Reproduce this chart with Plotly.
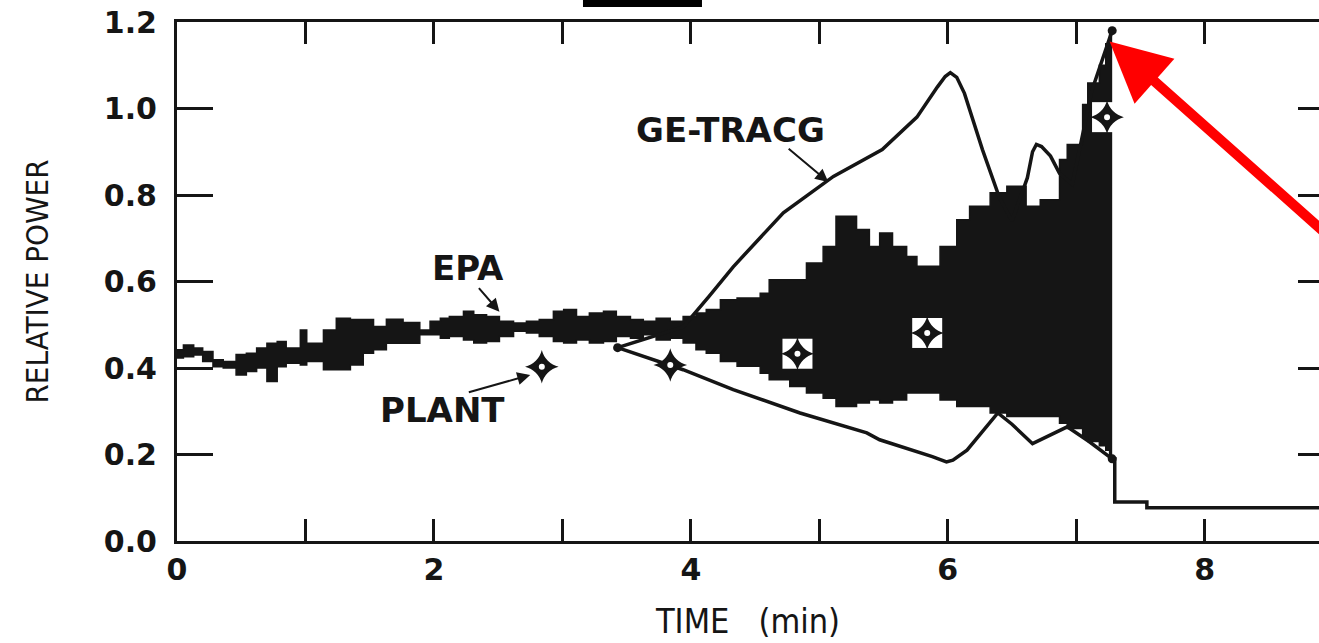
import plotly.graph_objects as go

INK = "#151515"

# ---------------- data ----------------
# EPA best-estimate calculation: oscillation envelope (time in min, upper / lower relative power)
epa_t = [0.00, 0.05, 0.13, 0.20, 0.28, 0.36, 0.46, 0.54, 0.62, 0.70, 0.78, 0.85, 0.96, 1.01,
         1.14, 1.24, 1.35, 1.45, 1.53, 1.63, 1.76, 1.89,
         1.97, 2.05, 2.12, 2.23, 2.31, 2.41, 2.51, 2.62, 2.72, 2.82, 2.93, 3.01, 3.11, 3.21,
         3.32, 3.42, 3.53, 3.63, 3.73, 3.84, 3.94,
         4.04, 4.12, 4.23, 4.36, 4.54, 4.61, 4.77, 4.90, 5.03, 5.13, 5.29, 5.39, 5.47,
         5.57, 5.68, 5.76, 5.94, 6.07, 6.17, 6.33, 6.46, 6.61, 6.72, 6.87, 6.93, 7.05, 7.09,
         7.18, 7.23, 7.26, 7.28]
epa_hi = [0.442, 0.453, 0.446, 0.438, 0.419, 0.415, 0.431, 0.434, 0.446, 0.457, 0.461, 0.446, 0.488, 0.457,
          0.488, 0.515, 0.512, 0.512, 0.496, 0.513, 0.505, 0.488,
          0.508, 0.515, 0.519, 0.531, 0.523, 0.519, 0.508, 0.504, 0.508, 0.512, 0.531, 0.535, 0.519, 0.527,
          0.531, 0.519, 0.512, 0.508, 0.515, 0.508, 0.519,
          0.527, 0.535, 0.558, 0.562, 0.573, 0.604, 0.604, 0.643, 0.681, 0.751, 0.720, 0.681, 0.712,
          0.681, 0.658, 0.635, 0.681, 0.743, 0.774, 0.805, 0.820, 0.774, 0.789, 0.882, 0.917, 1.009, 1.059,
          1.100, 1.150, 1.180, 1.180]
epa_lo = [0.423, 0.426, 0.430, 0.415, 0.403, 0.400, 0.384, 0.392, 0.400, 0.369, 0.403, 0.411, 0.407, 0.415,
          0.396, 0.396, 0.407, 0.434, 0.442, 0.457, 0.457, 0.477,
          0.477, 0.469, 0.473, 0.465, 0.458, 0.461, 0.473, 0.485, 0.481, 0.473, 0.461, 0.458, 0.465, 0.458,
          0.461, 0.473, 0.469, 0.477, 0.465, 0.469, 0.458,
          0.442, 0.434, 0.415, 0.404, 0.388, 0.373, 0.357, 0.342, 0.330, 0.311, 0.319, 0.326, 0.319,
          0.326, 0.342, 0.342, 0.326, 0.311, 0.311, 0.296, 0.288, 0.288, 0.288, 0.272, 0.260, 0.240, 0.230,
          0.220, 0.210, 0.200, 0.200]

# EPA power after the scram
scram_t = [7.28, 7.30, 7.55, 9.00]
scram_y = [0.190, 0.090, 0.077, 0.077]

# GE-TRACG calculation: upper and lower branches
tracg_up_t = [3.43, 3.94, 4.14, 4.33, 4.72, 5.11, 5.49, 5.76, 5.92, 5.98, 6.02, 6.07, 6.13, 6.27, 6.40, 6.50,
              6.62, 6.66, 6.69, 6.73, 6.80, 6.87, 6.97, 7.12, 7.28]
tracg_up_y = [0.447, 0.495, 0.565, 0.634, 0.759, 0.843, 0.905, 0.980, 1.050, 1.074, 1.083, 1.072, 1.035, 0.905,
              0.796, 0.740, 0.840, 0.900, 0.917, 0.912, 0.890, 0.850, 0.825, 1.040, 1.180]
tracg_lo_t = [3.43, 3.94, 4.33, 4.85, 5.37, 5.47, 5.88, 5.95, 5.99, 6.04, 6.15, 6.39, 6.50, 6.66, 6.80, 6.93,
              7.10, 7.28]
tracg_lo_y = [0.447, 0.396, 0.350, 0.296, 0.250, 0.234, 0.195, 0.186, 0.183, 0.187, 0.210, 0.296, 0.270, 0.225,
              0.245, 0.264, 0.230, 0.190]

# LaSalle plant measurements
plant_t = [2.84, 3.84, 4.83, 5.84, 7.24]
plant_y = [0.403, 0.407, 0.433, 0.481, 0.980]
plant_boxed = [False, False, True, True, True]

x_tick_vals = [0, 1, 2, 3, 4, 5, 6, 7, 8]
x_tick_text = ["0", "", "2", "", "4", "", "6", "", "8"]
y_tick_vals = [0.0, 0.2, 0.4, 0.6, 0.8, 1.0, 1.2]
y_tick_text = ["0.0", "0.2", "0.4", "0.6", "0.8", "1.0", "1.2"]

# ---------------- figure ----------------
fig = go.Figure()

fig.add_trace(go.Scatter(x=epa_t, y=epa_lo, mode="lines",
                         line=dict(shape="hv", width=1.5, color=INK), hoverinfo="skip"))
fig.add_trace(go.Scatter(x=epa_t, y=epa_hi, mode="lines", fill="tonexty", fillcolor=INK,
                         line=dict(shape="hv", width=1.5, color=INK), name="EPA"))
# post-scram trace is drawn on the (identical) right-hand axis so that its inner ticks are rendered
fig.add_trace(go.Scatter(x=scram_t, y=scram_y, mode="lines", yaxis="y2",
                         line=dict(shape="hv", width=3.5, color=INK), name="EPA after scram"))

fig.add_trace(go.Scatter(x=tracg_up_t, y=tracg_up_y, mode="lines",
                         line=dict(width=3.5, color=INK), name="GE-TRACG"))
fig.add_trace(go.Scatter(x=tracg_lo_t, y=tracg_lo_y, mode="lines",
                         line=dict(width=3.5, color=INK), name="GE-TRACG low"))
fig.add_trace(go.Scatter(x=[tracg_up_t[0], tracg_up_t[-1], tracg_lo_t[-1]],
                         y=[tracg_up_y[0], tracg_up_y[-1], tracg_lo_y[-1]],
                         mode="markers", marker=dict(symbol="circle", size=9, color=INK)))

box_t = [t for t, b in zip(plant_t, plant_boxed) if b]
box_y = [y for y, b in zip(plant_y, plant_boxed) if b]
fig.add_trace(go.Scatter(x=box_t, y=box_y, mode="markers",
                         marker=dict(symbol="square", size=30, color="white", line=dict(width=0))))
fig.add_trace(go.Scatter(x=plant_t, y=plant_y, mode="markers", name="PLANT",
                         marker=dict(symbol="star-diamond", size=24, color=INK, line=dict(width=0))))
fig.add_trace(go.Scatter(x=plant_t, y=plant_y, mode="markers",
                         marker=dict(symbol="circle", size=8, color="white", line=dict(width=2, color=INK))))

tick_font = dict(family="DejaVu Sans", size=30, color=INK, weight="bold")
ytitle_font = dict(family="Liberation Sans Narrow, DejaVu Sans Condensed, Liberation Sans",
                   size=31, color=INK)
xtitle_font = dict(family="Liberation Sans Narrow, DejaVu Sans Condensed, Liberation Sans",
                   size=34, color=INK)
label_font = dict(family="DejaVu Sans", size=34, color=INK, weight="bold")

fig.update_layout(
    width=1319, height=643,
    margin=dict(l=177, r=0, t=22, b=102),
    paper_bgcolor="white", plot_bgcolor="white",
    showlegend=False,
    xaxis=dict(range=[0, 8.89], tickvals=x_tick_vals, ticktext=x_tick_text,
               ticks="inside", ticklen=22, tickwidth=2.5, tickcolor=INK,
               showline=True, linewidth=3, linecolor=INK, mirror="ticks",
               showgrid=False, zeroline=False, tickfont=tick_font, ticklabelstandoff=0,
               title=dict(text="TIME\u00a0\u00a0\u00a0(min)", font=xtitle_font, standoff=24)),
    yaxis=dict(range=[0, 1.2], tickvals=y_tick_vals, ticktext=y_tick_text,
               ticks="inside", ticklen=36, tickwidth=2.5, tickcolor=INK,
               showline=True, linewidth=3, linecolor=INK, mirror=False,
               showgrid=False, zeroline=False, tickfont=tick_font, ticklabelstandoff=11,
               title=dict(text="RELATIVE POWER", font=ytitle_font, standoff=46)),
    yaxis2=dict(range=[0, 1.2], overlaying="y", side="right", anchor="x",
                tickvals=y_tick_vals[1:-1], ticks="inside", ticklen=21, tickwidth=2.5, tickcolor=INK,
                showline=False, showticklabels=False, showgrid=False, zeroline=False),
)

# text labels and their pointer arrows
fig.add_annotation(x=2.265, y=0.632, text="EPA", showarrow=False, font=label_font)
fig.add_annotation(x=2.51, y=0.53, ax=2.34, ay=0.588, axref="x", ayref="y", text="",
                   showarrow=True, arrowhead=2, arrowsize=1.3, arrowwidth=2, arrowcolor=INK)
fig.add_annotation(x=2.07, y=0.303, text="PLANT", showarrow=False, font=label_font)
fig.add_annotation(x=2.75, y=0.384, ax=2.26, ay=0.343, axref="x", ayref="y", text="",
                   showarrow=True, arrowhead=2, arrowsize=1.3, arrowwidth=2, arrowcolor=INK)
fig.add_annotation(x=4.31, y=0.951, text="GE-TRACG", showarrow=False, font=label_font)
fig.add_annotation(x=5.07, y=0.83, ax=4.75, ay=0.91, axref="x", ayref="y", text="",
                   showarrow=True, arrowhead=2, arrowsize=1.3, arrowwidth=2, arrowcolor=INK)

# red highlight arrow pointing at the TRACG peak
fig.add_annotation(x=7.26, y=1.155, ax=9.25, ay=0.63, axref="x", ayref="y", text="",
                   showarrow=True, arrowhead=2, arrowsize=1.2, arrowwidth=10, arrowcolor="#ff0000")

# black redaction bar above the frame
fig.add_shape(type="rect", xref="paper", yref="paper", x0=0.3555, x1=0.4597, y0=1.029, y1=1.05,
              fillcolor="black", line=dict(width=0), layer="above")

fig.write_html("out.html", config={"displayModeBar": False},
               post_script="document.body.style.margin='0';document.body.style.overflow='hidden';")
